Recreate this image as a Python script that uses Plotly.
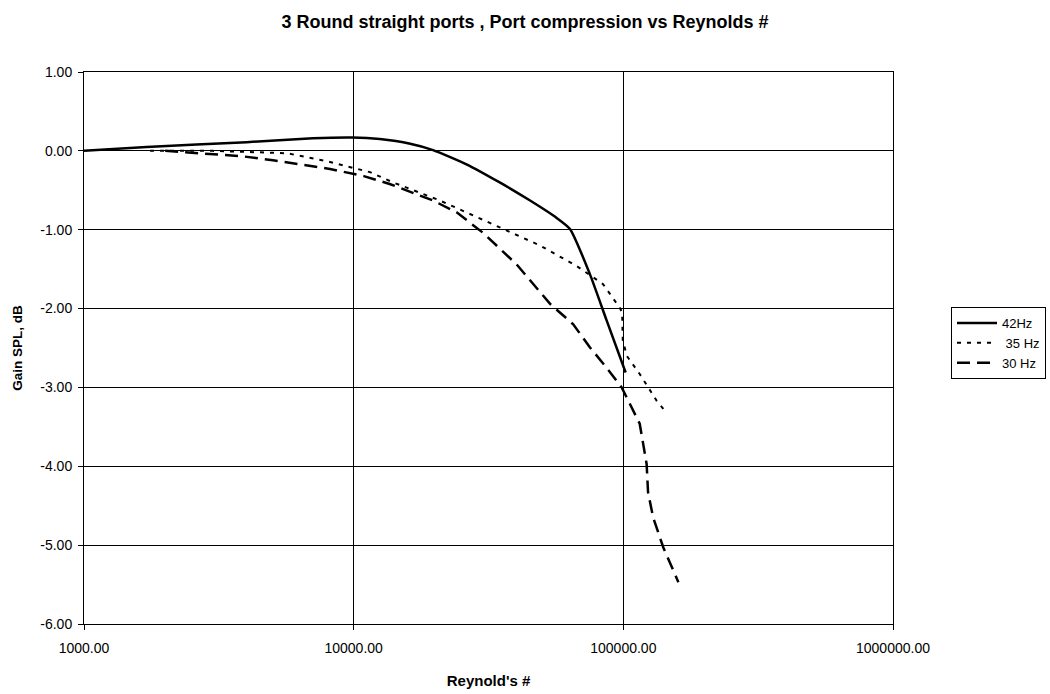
import plotly.graph_objects as go

# 42 Hz
re_42 = [1000, 1706, 4010, 7060, 9900, 12500, 16200, 19700, 26200, 34800, 45100, 56600, 63400, 75100, 86700, 102000]
db_42 = [0.0, 0.05, 0.11, 0.16, 0.17, 0.15, 0.09, 0.01, -0.17, -0.40, -0.63, -0.85, -0.99, -1.56, -2.15, -2.81]

# 35 Hz
re_35 = [1757, 3000, 5650, 7940, 11500, 14000, 20900, 27700, 34800, 49100, 67100, 84100, 97000, 99000, 99500, 103000, 115000, 133000, 143000]
db_35 = [0.0, 0.0, -0.03, -0.13, -0.27, -0.40, -0.63, -0.82, -0.97, -1.20, -1.46, -1.69, -1.99, -2.05, -2.40, -2.60, -2.83, -3.17, -3.30]

# 30 Hz
re_30 = [2000, 3010, 3890, 5020, 8170, 10900, 13600, 19700, 24100, 30200, 40200, 53500, 65200, 75100, 86700, 98600, 115000, 122000, 123500, 129000, 140700, 160000]
db_30 = [0.0, -0.04, -0.07, -0.12, -0.23, -0.32, -0.42, -0.63, -0.78, -1.04, -1.44, -1.94, -2.20, -2.49, -2.75, -3.0, -3.46, -3.97, -4.33, -4.65, -5.03, -5.47]

x_ticks = [1000, 10000, 100000, 1000000]
x_tick_text = ["1000.00", "10000.00", "100000.00", "1000000.00"]
y_ticks = [1, 0, -1, -2, -3, -4, -5, -6]
y_tick_text = ["1.00", "0.00", "-1.00", "-2.00", "-3.00", "-4.00", "-5.00", "-6.00"]

fig = go.Figure()
fig.add_trace(go.Scatter(x=re_42, y=db_42, mode="lines", name="42Hz",
                         line=dict(color="black", width=2.5, shape="spline", smoothing=0.5)))
fig.add_trace(go.Scatter(x=re_35, y=db_35, mode="lines", name=" 35 Hz",
                         line=dict(color="black", width=2, dash="4px,6px")))
fig.add_trace(go.Scatter(x=re_30, y=db_30, mode="lines", name="30 Hz",
                         line=dict(color="black", width=2.5, dash="13px,7px")))

font = "Arial, Liberation Sans, sans-serif"
fig.update_layout(
    width=1050, height=694,
    margin=dict(l=84, r=157, t=72, b=70, autoexpand=False),
    paper_bgcolor="white", plot_bgcolor="white",
    font=dict(family=font, size=14, color="black"),
    title=dict(text="<b>3 Round straight ports , Port compression vs Reynolds #</b>",
               x=0.5, xanchor="center", y=1 - 22 / 694, yanchor="middle",
               font=dict(size=18, family=font, color="black")),
    showlegend=True,
    legend=dict(x=(951 - 84) / 809, xanchor="left", y=(624 - 307) / 552, yanchor="top",
                bordercolor="black", borderwidth=1, bgcolor="white",
                font=dict(size=13, family=font), tracegroupgap=0, itemwidth=40),
)
fig.update_xaxes(type="log", range=[3, 6], tickvals=x_ticks, ticktext=x_tick_text,
                 showgrid=True, gridcolor="black", gridwidth=1,
                 showline=True, linecolor="black", linewidth=1, mirror=True,
                 ticks="outside", ticklen=5, tickcolor="black", zeroline=False,
                 ticklabelstandoff=6, automargin=False,
                 title=dict(text="<b>Reynold's #</b>", font=dict(size=15, family=font), standoff=20))
fig.update_yaxes(range=[-6, 1], tickvals=y_ticks, ticktext=y_tick_text,
                 showgrid=True, gridcolor="black", gridwidth=1,
                 showline=True, linecolor="black", linewidth=1, mirror=True,
                 ticks="outside", ticklen=5, tickcolor="black", zeroline=False,
                 ticklabelstandoff=3, automargin=False,
                 title=dict(text="<b>Gain SPL, dB</b>", font=dict(size=13.5, family=font), standoff=14))

fig.write_html("out.html")
